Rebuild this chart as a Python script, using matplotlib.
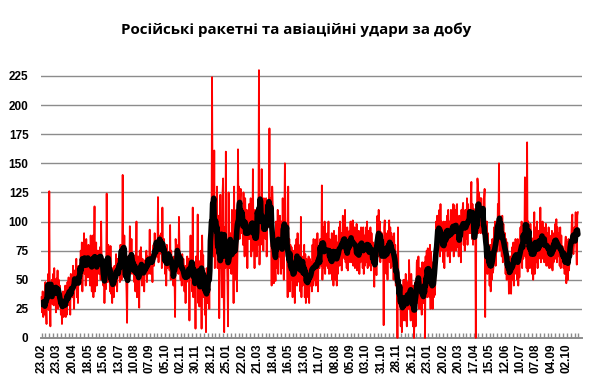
import matplotlib
matplotlib.use("Agg")
import matplotlib.pyplot as plt
import numpy as np
import pandas as pd

title = "Російські ракетні та авіаційні удари за добу"

# Daily values, 23.02.2023 - 31.12.2023
daily_2023 = [
    35, 22, 40, 18, 30, 38, 20,
    48, 25, 12, 44, 30, 55, 24,
    126, 30, 10, 42, 35, 50, 29,
    55, 28, 60, 30, 48, 22, 51,
    35, 58, 25, 50, 30, 45, 37,
    20, 35, 12, 30, 40, 18, 34,
    25, 45, 18, 38, 20, 48, 30,
    52, 28, 45, 20, 55, 38, 42,
    35, 62, 40, 25, 58, 50, 52,
    68, 35, 55, 30, 62, 48, 52,
    48, 75, 55, 82, 40, 70, 64,
    90, 55, 72, 45, 85, 60, 69,
    52, 80, 60, 75, 45, 88, 69,
    40, 62, 88, 35, 70, 113, 40,
    60, 82, 45, 75, 55, 70, 75,
    55, 78, 50, 100, 62, 70, 61,
    45, 62, 30, 55, 48, 42, 124,
    70, 48, 80, 55, 62, 40, 79,
    38, 55, 30, 60, 42, 35, 62,
    60, 45, 72, 50, 40, 68, 57,
    55, 70, 48, 80, 62, 50, 69,
    140, 70, 55, 88, 60, 62, 57,
    40, 13, 70, 62, 55, 49, 96,
    75, 60, 85, 55, 72, 58, 71,
    48, 62, 40, 55, 100, 35, 52,
    70, 45, 26, 75, 60, 78, 66,
    45, 68, 50, 62, 40, 60, 67,
    58, 75, 48, 70, 55, 66, 62,
    93, 55, 72, 60, 65, 48, 76,
    80, 62, 90, 68, 75, 70, 80,
    70, 121, 65, 88, 72, 80, 78,
    90, 60, 112, 75, 68, 85, 70,
    55, 70, 45, 80, 60, 72, 66,
    72, 58, 97, 50, 75, 60, 64,
    62, 45, 70, 52, 18, 85, 74,
    80, 60, 68, 55, 104, 75, 62,
    50, 70, 45, 72, 55, 68, 60,
    40, 62, 30, 58, 48, 70, 56,
    55, 68, 15, 62, 88, 60, 58,
    40, 112, 35, 60, 48, 62, 8,
    70, 45, 62, 106, 30, 52, 27,
    66, 50, 75, 8, 88, 62, 71,
    35, 55, 20, 48, 5, 60, 57,
    30, 45, 62, 25, 70, 55, 63,
    85, 224, 110, 95,
]

# Daily values, 01.01.2024 - 31.12.2024
daily_2024 = [
    70, 161, 60,
    120, 75, 90, 130, 60, 105, 85,
    17, 55, 123, 60, 90, 35, 124,
    137, 40, 5, 95, 60, 160, 63,
    70, 45, 10, 125, 60, 80, 72,
    90, 55, 110, 60, 85, 30, 130,
    50, 95, 70, 110, 40, 72, 162,
    100, 130, 85, 120, 128, 90, 103,
    110, 80, 125, 95, 70, 120, 100,
    75, 110, 60, 100, 85, 115, 85,
    90, 120, 70, 100, 75, 145, 86,
    95, 60, 110, 80, 100, 70, 101,
    80, 95, 230, 63, 100, 110, 92,
    145, 80, 110, 75, 120, 90, 94,
    85, 120, 70, 115, 95, 110, 105,
    180, 95, 120, 100, 45, 130, 114,
    80, 47, 70, 65, 49, 100, 93,
    60, 110, 55, 100, 70, 105, 74,
    55, 100, 60, 120, 75, 50, 100,
    150, 105, 85, 90, 70, 35, 130,
    45, 85, 40, 80, 50, 78, 56,
    35, 75, 40, 70, 30, 80, 62,
    85, 45, 90, 50, 80, 48, 64,
    40, 104, 35, 70, 45, 68, 58,
    80, 35, 72, 30, 68, 40, 60,
    35, 70, 30, 68, 45, 65, 51,
    40, 80, 45, 85, 50, 70, 50,
    45, 85, 50, 90, 40, 78, 60,
    60, 85, 70, 62, 131, 50, 74,
    95, 60, 100, 55, 85, 62, 75,
    90, 60, 100, 55, 85, 60, 75,
    55, 90, 50, 85, 45, 92, 73,
    85, 50, 88, 45, 82, 55, 71,
    95, 62, 100, 65, 90, 58, 76,
    105, 70, 100, 68, 110, 65, 77,
    60, 95, 58, 90, 65, 92, 79,
    100, 65, 95, 70, 101, 62, 88,
    95, 60, 92, 65, 98, 58, 78,
    60, 92, 55, 90, 65, 95, 75,
    90, 60, 95, 55, 88, 62, 82,
    95, 65, 100, 60, 92, 68, 80,
    62, 95, 58, 90, 65, 80, 82,
    60, 44, 70, 55, 75, 54, 104,
    105, 70, 110, 75, 100, 65, 91,
    85, 90, 70, 80, 11, 95, 101,
    60, 90, 55, 85, 50, 92, 72,
    101, 65, 95, 60, 90, 62, 87,
    85, 50, 90, 55, 80, 45, 71,
    60, 0, 95, 40, 30, 50, 40,
    10, 45, 5, 40, 15, 50, 17,
    50, 15, 55, 20, 10, 48, 33,
    25, 67, 50, 25, 15, 55, 43,
    35, 10, 45, 0, 20, 48,
]

# Daily values, 01.01.2025 - 22.10.2025
daily_2025 = [
    10,
    35, 65, 67, 30, 70, 25, 44,
    60, 25, 55, 20, 65, 30, 39,
    30, 65, 0, 70, 40, 75, 35,
    77, 40, 75, 35, 80, 25, 74,
    30, 65, 25, 60, 35, 70, 37,
    60, 100, 70, 105, 80, 95, 85,
    110, 70, 115, 75, 100, 80, 80,
    65, 100, 60, 95, 75, 100, 86,
    105, 70, 110, 75, 100, 65, 91,
    110, 75, 105, 78, 115, 70, 114,
    80, 110, 75, 105, 115, 78, 95,
    70, 105, 75, 100, 65, 110, 91,
    110, 116, 80, 105, 75, 110, 90,
    85, 120, 80, 115, 90, 110, 100,
    90, 120, 134, 85, 115, 80, 111,
    110, 100, 90, 0, 115, 108, 137,
    130, 90, 125, 95, 120, 90, 120,
    105, 100, 110, 95, 120, 128, 18,
    100, 60, 100, 55, 90, 65, 76,
    45, 80, 40, 78, 50, 85, 56,
    60, 95, 65, 100, 62, 90, 74,
    80, 115, 90, 150, 75, 100, 90,
    100, 70, 105, 65, 98, 72, 85,
    90, 55, 85, 50, 82, 58, 70,
    38, 65, 55, 70, 38, 62, 78,
    50, 82, 45, 80, 55, 85, 65,
    80, 50, 85, 45, 78, 52, 72,
    95, 65, 100, 60, 92, 68, 80,
    80, 138, 70, 85, 60, 168, 57,
    100, 65, 95, 60, 98, 70, 86,
    55, 85, 50, 80, 108, 55, 71,
    95, 65, 100, 60, 92, 68, 80,
    70, 112, 65, 95, 68, 100, 78,
    95, 65, 92, 68, 98, 62, 80,
    90, 62, 95, 60, 88, 65, 79,
    60, 92, 58, 90, 65, 82, 78,
    98, 68, 102, 65, 95, 70, 76,
    90, 62, 95, 60, 88, 65, 79,
    75, 60, 72, 55, 80, 87, 47,
    55, 82, 50, 85, 58, 72, 74,
    70, 85, 100, 106, 75, 72, 80,
    95, 85, 108, 80, 63, 105, 108,
]

tick_labels = [
    "23.02", "23.03", "20.04", "18.05", "15.06", "13.07", "10.08", "07.09",
    "05.10", "02.11", "30.11", "28.12", "25.01", "22.02", "21.03", "18.04",
    "16.05", "13.06", "11.07", "08.08", "05.09", "03.10", "31.10", "28.11",
    "26.12", "23.01", "20.02", "20.03", "17.04", "15.05", "12.06", "10.07",
    "07.08", "04.09", "02.10",
]
y_ticks = [0, 25, 50, 75, 100, 125, 150, 175, 200, 225]

values = pd.Series(daily_2023 + daily_2024 + daily_2025, dtype=float)
avg7 = values.rolling(7, center=True, min_periods=1).mean()
x = np.arange(len(values))

fig = plt.figure(figsize=(5.9, 3.92), dpi=100)
ax = fig.add_axes([0.0695, 0.1378, 0.9165, 0.713])

ax.set_ylim(0, 240)
ax.set_xlim(-1, len(values) + 6)
for t in y_ticks[1:]:
    ax.axhline(t, color="#8c8c8c", lw=1.0, zorder=1)

ax.plot(x, values, color="#ff0000", lw=1.3, zorder=3, clip_on=False)
ax.plot(x, avg7, color="#000000", lw=4.0, zorder=4, solid_capstyle="round")

for s in ["top", "right", "left"]:
    ax.spines[s].set_visible(False)
ax.spines["bottom"].set_color("#8c8c8c")
ax.spines["bottom"].set_linewidth(1.4)

ax.set_yticks(y_ticks)
ax.set_yticklabels([str(t) for t in y_ticks], fontsize=8.5, fontweight="bold",
                   family=["Liberation Sans", "DejaVu Sans"])
ax.tick_params(axis="y", length=0, pad=9)

ax.set_xticks(np.arange(len(tick_labels)) * 28)
ax.set_xticklabels(tick_labels, rotation=90, fontsize=8.5, fontweight="bold",
                   family=["Liberation Sans", "DejaVu Sans"])
ax.set_xticks(np.arange(0, len(values) + 6, 7), minor=True)
ax.tick_params(axis="x", which="both", direction="in", length=3.5, width=1.0,
               color="#8c8c8c", pad=4)

fig.text(0.502, 0.925, title, ha="center", va="center", fontsize=10.9,
         fontweight="bold", family=["Open Sans", "Liberation Sans", "DejaVu Sans"])

fig.savefig("out.png", dpi=100, facecolor="white")
